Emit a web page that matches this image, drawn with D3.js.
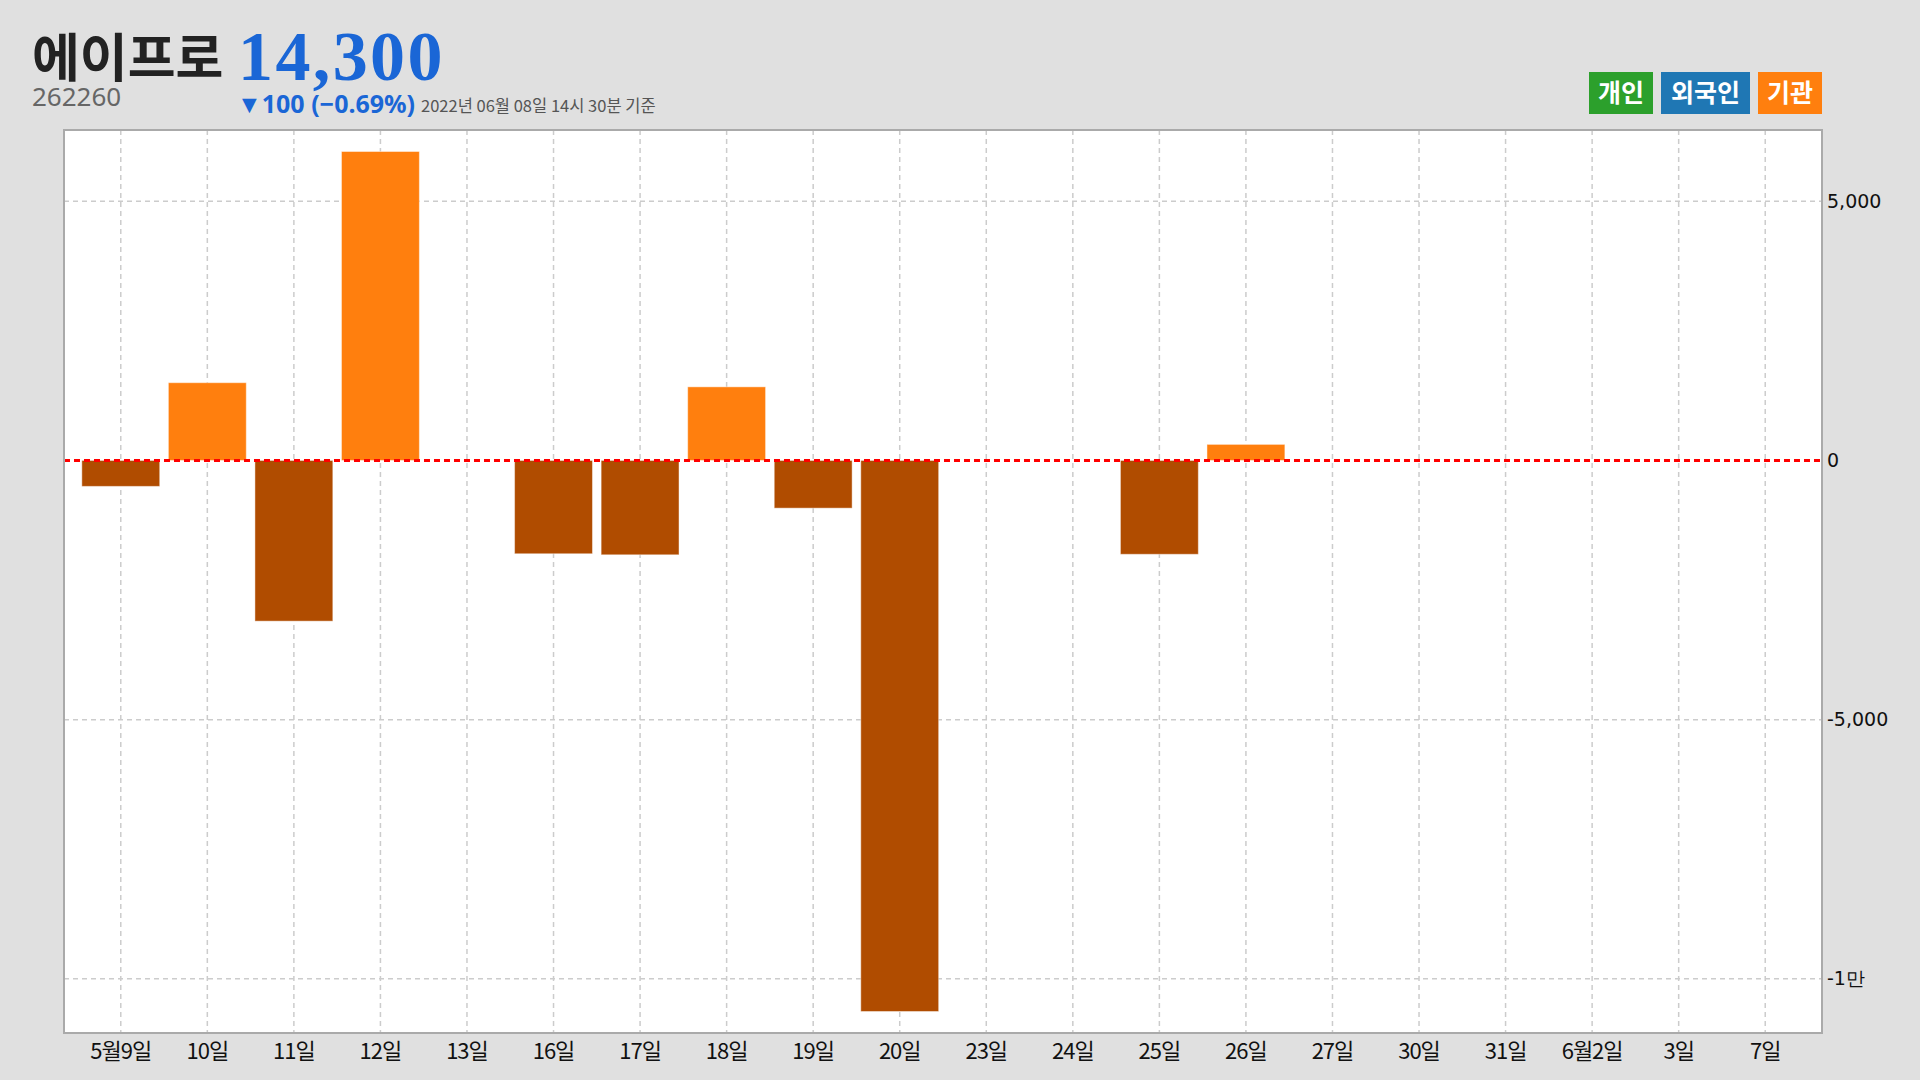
<!DOCTYPE html>
<html>
<head>
<meta charset="utf-8">
<script src="https://cdn.jsdelivr.net/npm/d3@7"></script>
<style>
  body { margin: 0; background: #e0e0e0; }
  svg { display: block; }
</style>
</head>
<body>
<svg id="chart" width="1920" height="1080"></svg>
<script>
// 기관 순매매 (주)
const dates = ["5월9일", "10일", "11일", "12일", "13일", "16일", "17일", "18일", "19일", "20일",
  "23일", "24일", "25일", "26일", "27일", "30일", "31일", "6월2일", "3일", "7일"];
const instValues = [-500, 1500, -3100, 5960, 0, -1800, -1820, 1420, -920, -10630,
  0, 0, -1810, 310, 0, 0, 0, 0, 0, 0];
const yTicks = [5000, 0, -5000, -10000];
const legendItems = ["개인", "외국인", "기관"];
const legendColors = ["#2ca02c", "#1f77b4", "#ff7f0e"];

const svg = d3.select("#chart");
const margin = { left: 64, top: 130, right: 1822, bottom: 1033 };

// header
svg.append("text").attr("x", 32).attr("y", 77)
  .attr("font-family", "Noto Sans CJK KR").attr("font-weight", 700)
  .attr("font-size", 52).attr("letter-spacing", 0).attr("fill", "#222")
  .text("에이프로");
svg.append("text").attr("x", 238).attr("y", 80)
  .attr("font-family", "Liberation Serif").attr("font-weight", 700)
  .attr("font-size", 70).attr("letter-spacing", 2.4).attr("fill", "#1a66d6")
  .text("14,300");
svg.append("text").attr("x", 32).attr("y", 106)
  .attr("font-family", "Noto Sans").attr("font-size", 26).attr("fill", "#666")
  .text("262260");
svg.append("text").attr("x", 237).attr("y", 113)
  .attr("font-family", "Noto Sans").attr("font-weight", 700)
  .attr("font-size", 25).attr("fill", "#1a66d6")
  .text("▼100 (−0.69%)");
svg.append("text").attr("x", 421).attr("y", 112)
  .attr("font-family", "Noto Sans CJK KR").attr("font-size", 16.5).attr("fill", "#555")
  .text("2022년 06월 08일 14시 30분 기준");

// legend
const legW = [64, 89, 64];
let lx = 1589;
legendItems.forEach((name, i) => {
  svg.append("rect").attr("x", lx).attr("y", 72).attr("width", legW[i]).attr("height", 42)
    .attr("fill", legendColors[i]);
  svg.append("text").attr("x", lx + legW[i] / 2).attr("y", 102)
    .attr("text-anchor", "middle").attr("font-family", "Noto Sans CJK KR")
    .attr("font-weight", 700).attr("font-size", 25).attr("fill", "#fff")
    .text(name);
  lx += legW[i] + 8;
});

// plot background
svg.append("rect").attr("x", margin.left).attr("y", margin.top)
  .attr("width", margin.right - margin.left).attr("height", margin.bottom - margin.top)
  .attr("fill", "#fff");

const x = d3.scaleBand().domain(dates).range([margin.left, margin.right])
  .paddingInner(0.1).paddingOuter(0.206);

const ext = d3.extent(instValues);
const pad = (ext[1] - ext[0]) * 0.025;
const y = d3.scaleLinear().domain([ext[0] - pad, ext[1] + pad]).range([margin.bottom, margin.top]);

// grid
svg.append("g").selectAll("line").data(dates).join("line")
  .attr("x1", d => x(d) + x.bandwidth() / 2).attr("x2", d => x(d) + x.bandwidth() / 2)
  .attr("y1", margin.top).attr("y2", margin.bottom)
  .attr("stroke", "#ccc").attr("stroke-width", 1.5).attr("stroke-dasharray", "5,4");
svg.append("g").selectAll("line").data(yTicks.filter(t => t !== 0)).join("line")
  .attr("x1", margin.left).attr("x2", margin.right)
  .attr("y1", d => y(d)).attr("y2", d => y(d))
  .attr("stroke", "#ccc").attr("stroke-width", 1.5).attr("stroke-dasharray", "5,4");

// bars
svg.append("g").selectAll("rect")
  .data(dates.map((d, i) => ({ d, v: instValues[i] })).filter(o => o.v !== 0))
  .join("rect")
  .attr("x", o => x(o.d)).attr("width", x.bandwidth())
  .attr("y", o => y(Math.max(0, o.v)))
  .attr("height", o => Math.abs(y(o.v) - y(0)))
  .attr("fill", o => o.v > 0 ? "#ff7f0e" : "#b04c00")
  .attr("stroke", "rgba(255,255,255,0.45)").attr("stroke-width", 1);

// zero line
svg.append("line").attr("x1", margin.left).attr("x2", margin.right)
  .attr("y1", y(0)).attr("y2", y(0))
  .attr("stroke", "#ff0000").attr("stroke-width", 3).attr("stroke-dasharray", "6,4");

// border
svg.append("rect").attr("x", margin.left).attr("y", margin.top)
  .attr("width", margin.right - margin.left).attr("height", margin.bottom - margin.top)
  .attr("fill", "none").attr("stroke", "#aaa").attr("stroke-width", 2);

// y axis (right)
const fmt = v => Math.abs(v) >= 10000 ? (v < 0 ? "-" : "") + Math.abs(v) / 10000 + "만" : d3.format(",")(v).replace("−", "-");
const yAxis = svg.append("g").attr("transform", `translate(${margin.right},0)`)
  .call(d3.axisRight(y).tickValues(yTicks).tickSize(0).tickPadding(5).tickFormat(fmt));
yAxis.select(".domain").remove();
yAxis.selectAll("text").attr("font-family", "DejaVu Sans").attr("font-size", 19).attr("fill", "#111");

// x axis
const xAxis = svg.append("g").attr("transform", `translate(0,${margin.bottom})`)
  .call(d3.axisBottom(x).tickSize(0).tickPadding(10));
xAxis.select(".domain").remove();
xAxis.selectAll("text").attr("font-family", "Noto Sans CJK KR").attr("font-size", 22)
  .attr("fill", "#111").attr("letter-spacing", -1);
</script>
</body>
</html>
